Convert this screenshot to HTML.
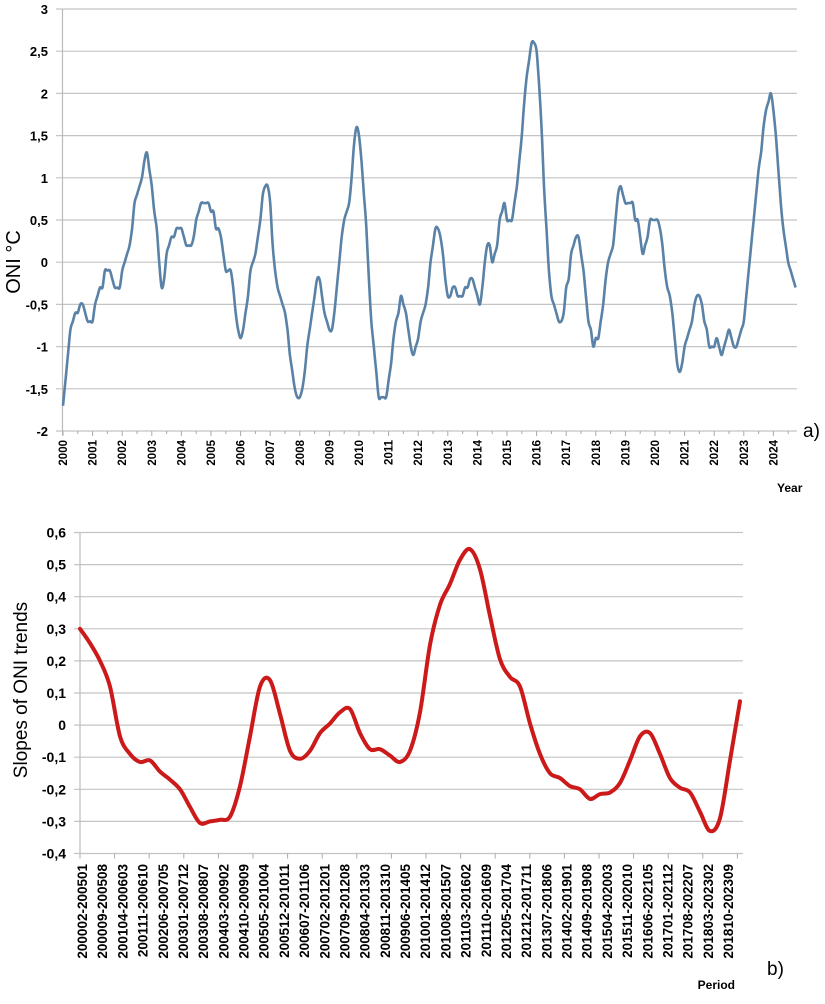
<!DOCTYPE html>
<html><head><meta charset="utf-8"><style>
body{margin:0;background:#fff;}
svg text{font-family:"Liberation Sans",sans-serif;}
</style></head><body>
<svg id="svg" width="825" height="999" viewBox="0 0 825 999" xmlns="http://www.w3.org/2000/svg">
<g id="topChart"></g>
<g id="botChart"></g>
<text x="20" y="262" font-size="20" text-anchor="middle" transform="rotate(-90 20 262)">ONI  °C</text>
<text x="777" y="492" font-size="12" font-weight="bold">Year</text>
<text x="803" y="437" font-size="19">a)</text>
<text x="27" y="690" font-size="19" text-anchor="middle" transform="rotate(-90 27 690)">Slopes of ONI trends</text>
<text x="735" y="989" font-size="12" font-weight="bold" text-anchor="end">Period</text>
<text x="767" y="975" font-size="19">b)</text>
</svg>
<script>
const years=[2000,2001,2002,2003,2004,2005,2006,2007,2008,2009,2010,2011,2012,2013,2014,2015,2016,2017,2018,2019,2020,2021,2022,2023,2024];
const oniTicks=[3,2.5,2,1.5,1,0.5,0,-0.5,-1,-1.5,-2];
const oni=[
-1.7,-1.4,-1.1,-0.8,-0.7,-0.6,-0.6,-0.5,-0.5,-0.6,-0.7,-0.7,
-0.7,-0.5,-0.4,-0.3,-0.3,-0.1,-0.1,-0.1,-0.2,-0.3,-0.3,-0.3,
-0.1,0.0,0.1,0.2,0.4,0.7,0.8,0.9,1.0,1.2,1.3,1.1,
0.9,0.6,0.4,0.0,-0.3,-0.2,0.1,0.2,0.3,0.3,0.4,0.4,
0.4,0.3,0.2,0.2,0.2,0.3,0.5,0.6,0.7,0.7,0.7,0.7,
0.6,0.6,0.4,0.4,0.3,0.1,-0.1,-0.1,-0.1,-0.3,-0.6,-0.8,
-0.9,-0.8,-0.6,-0.4,-0.1,0.0,0.1,0.3,0.5,0.8,0.9,0.9,
0.7,0.2,-0.1,-0.3,-0.4,-0.5,-0.6,-0.8,-1.1,-1.3,-1.5,-1.6,
-1.6,-1.5,-1.3,-1.0,-0.8,-0.6,-0.4,-0.2,-0.2,-0.4,-0.6,-0.7,
-0.8,-0.8,-0.6,-0.3,0.0,0.3,0.5,0.6,0.7,1.0,1.4,1.6,
1.5,1.2,0.8,0.4,-0.2,-0.7,-1.0,-1.3,-1.6,-1.6,-1.6,-1.6,
-1.4,-1.2,-0.9,-0.7,-0.6,-0.4,-0.5,-0.6,-0.8,-1.0,-1.1,-1.0,
-0.9,-0.7,-0.6,-0.5,-0.3,0.0,0.2,0.4,0.4,0.3,0.1,-0.2,
-0.4,-0.4,-0.3,-0.3,-0.4,-0.4,-0.4,-0.3,-0.3,-0.2,-0.2,-0.3,
-0.4,-0.5,-0.3,0.0,0.2,0.2,0.0,0.1,0.2,0.5,0.6,0.7,
0.5,0.5,0.5,0.7,0.9,1.2,1.5,1.9,2.2,2.4,2.6,2.6,
2.5,2.1,1.6,0.9,0.4,-0.1,-0.4,-0.5,-0.6,-0.7,-0.7,-0.6,
-0.3,-0.2,0.1,0.2,0.3,0.3,0.1,-0.1,-0.4,-0.7,-0.8,-1.0,
-0.9,-0.9,-0.7,-0.5,-0.2,0.0,0.1,0.2,0.5,0.8,0.9,0.8,
0.7,0.7,0.7,0.7,0.5,0.5,0.3,0.1,0.2,0.3,0.5,0.5,
0.5,0.5,0.4,0.2,-0.1,-0.3,-0.4,-0.6,-0.9,-1.2,-1.3,-1.2,
-1.0,-0.9,-0.8,-0.7,-0.5,-0.4,-0.4,-0.5,-0.7,-0.8,-1.0,-1.0,
-1.0,-0.9,-1.0,-1.1,-1.0,-0.9,-0.8,-0.9,-1.0,-1.0,-0.9,-0.8,
-0.7,-0.4,-0.1,0.2,0.5,0.8,1.1,1.3,1.6,1.8,1.9,2.0,
1.8,1.5,1.1,0.7,0.4,0.2,0.0,-0.1,-0.2,-0.3];
const periods=["200002-200501","200009-200508","200104-200603","200111-200610","200206-200705","200301-200712","200308-200807","200403-200902","200410-200909","200505-201004","200512-201011","200607-201106","200702-201201","200709-201208","200804-201303","200811-201310","200906-201405","201001-201412","201008-201507","201103-201602","201110-201609","201205-201704","201212-201711","201307-201806","201402-201901","201409-201908","201504-202003","201511-202010","201606-202105","201701-202112","201708-202207","201803-202302","201810-202309"];
const slopeTicks=[0.6,0.5,0.4,0.3,0.2,0.1,0,-0.1,-0.2,-0.3,-0.4];
const slopes=[0.30,0.255,0.20,0.12,-0.035,-0.09,-0.115,-0.11,-0.145,-0.17,-0.20,-0.255,-0.305,-0.30,-0.295,-0.285,-0.19,-0.035,0.12,0.14,0.035,-0.08,-0.105,-0.08,-0.025,0.005,0.04,0.05,-0.025,-0.075,-0.075,-0.095,-0.115,-0.08,0.04,0.25,0.375,0.44,0.515,0.548,0.485,0.34,0.205,0.15,0.12,0.005,-0.09,-0.15,-0.165,-0.19,-0.20,-0.23,-0.215,-0.21,-0.18,-0.11,-0.035,-0.025,-0.09,-0.165,-0.195,-0.21,-0.27,-0.33,-0.29,-0.11,0.074];

const NS="http://www.w3.org/2000/svg";
function mk(parent,tag,attrs,txt){const e=document.createElementNS(NS,tag);for(const k in attrs)e.setAttribute(k,attrs[k]);if(txt!==undefined)e.textContent=txt;parent.appendChild(e);return e;}
function fmt(v){return String(v).replace('.',',');}
function smooth(pts){let d='M'+pts[0][0].toFixed(1)+','+pts[0][1].toFixed(1);for(let i=0;i<pts.length-1;i++){const p0=pts[Math.max(0,i-1)],p1=pts[i],p2=pts[i+1],p3=pts[Math.min(pts.length-1,i+2)];const c1=[p1[0]+(p2[0]-p0[0])/6,p1[1]+(p2[1]-p0[1])/6],c2=[p2[0]-(p3[0]-p1[0])/6,p2[1]-(p3[1]-p1[1])/6];d+='C'+c1[0].toFixed(1)+','+c1[1].toFixed(1)+' '+c2[0].toFixed(1)+','+c2[1].toFixed(1)+' '+p2[0].toFixed(1)+','+p2[1].toFixed(1);}return d;}

// TOP
const topG=document.getElementById('topChart');
const tx0=62.5,tx1=797,yA=v=>9+(3-v)*84.4,xYear=y=>63+(y-2000)*29.6,xMon=i=>63+i*29.6/12;
oniTicks.forEach(v=>{
 const g=mk(topG,'line',{x1:56,x2:tx1,y1:yA(v),y2:yA(v),stroke:'#c4c4c4','stroke-width':1.2});
 
 
 const t=mk(topG,'text',{x:48,y:yA(v)+5,'font-size':13,'font-weight':'bold','text-anchor':'end'},fmt(v));
 
 
});
mk(topG,'line',{x1:tx0,x2:tx0,y1:yA(3),y2:yA(-2)+4,stroke:'#bbb','stroke-width':1.2});
for(let k=0;k<=50;k++){const x=63+k*14.8;if(x>tx1)break;mk(topG,'line',{x1:x,x2:x,y1:yA(-2),y2:yA(-2)+(k%2?3:5),stroke:'#aaa','stroke-width':1});}
years.forEach(y=>{
 const x=xYear(y);
 const t=mk(topG,'text',{x:0,y:0,'font-size':11.5,'font-weight':'bold','text-anchor':'end',transform:`translate(${x+4},440) rotate(-90)`},String(y));
 
 
});
const oniPath=mk(topG,'path',{d:smooth(oni.map((v,i)=>[xMon(i),yA(v)])),fill:'none',stroke:'#5a82a6','stroke-width':2.6,'stroke-linejoin':'round'});



// BOTTOM
const botG=document.getElementById('botChart');
const bx0=80,bx1=743,yB=v=>532.5+(0.6-v)*321;
slopeTicks.forEach(v=>{
 const g=mk(botG,'line',{x1:74,x2:bx1,y1:yB(v),y2:yB(v),stroke:'#c4c4c4','stroke-width':1.2});
 
 
 const t=mk(botG,'text',{x:66,y:yB(v)+5,'font-size':14,'font-weight':'bold','text-anchor':'end'},fmt(v));
 
 
});
mk(botG,'line',{x1:bx0,x2:bx0,y1:yB(0.6),y2:yB(-0.4)+5,stroke:'#bbb','stroke-width':1.2});
for(let k=0;k<19;k++){const x=80+(k+1)*34.6;mk(botG,'line',{x1:x,x2:x,y1:yB(-0.4),y2:yB(-0.4)+5,stroke:'#aaa','stroke-width':1});}
periods.forEach((p,i)=>{
 const x=82+i*(728-82)/(periods.length-1);
 const t=mk(botG,'text',{x:0,y:0,'font-size':13.5,'font-weight':'bold','text-anchor':'end',transform:`translate(${x+5},864) rotate(-90)`},p);
 
 
});
const xS=i=>80+i*(740-80)/(slopes.length-1);
const sp=mk(botG,'path',{d:smooth(slopes.map((v,i)=>[xS(i),yB(v)])),fill:'none',stroke:'#cc1a1a','stroke-width':4,'stroke-linejoin':'round','stroke-linecap':'round'});


</script>
</body></html>
